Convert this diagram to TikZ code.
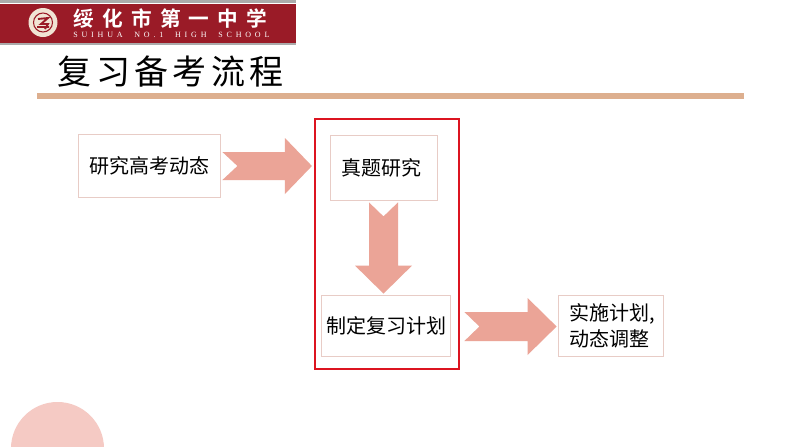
\documentclass[tikz,border=0pt]{standalone}
\usepackage{fontspec}
\setmainfont{Noto Sans CJK SC}
\newfontfamily\titlefont[LetterSpace=13]{Noto Sans CJK SC}
\newfontfamily\bannerfont[LetterSpace=40]{Noto Sans CJK SC Bold}
\newfontfamily\bannerlatin[LetterSpace=48]{Liberation Serif}
\usetikzlibrary{calc}
\definecolor{boxline}{HTML}{E8CCC6}
\definecolor{arrowpink}{HTML}{EBA497}
\definecolor{framered}{HTML}{DC1420}
\definecolor{circlepink}{HTML}{F5CAC4}
\definecolor{bannerred}{HTML}{9A1B27}
\definecolor{bannergray}{HTML}{ABABAB}
\definecolor{ruletan}{HTML}{DDAF8F}
\definecolor{logocream}{HTML}{F0E4D4}
\tikzset{
  flowbox/.style={draw=boxline,line width=.6pt,fill=white,inner sep=0pt,align=left,font=\fontsize{15}{19.5}\selectfont},
  blockarrow/.style={fill=arrowpink,draw=none},
  redframe/.style={draw=framered,line width=1.6pt},
}
% #1 start, #2 tip, #3 shaft half-width, #4 head half-width, #5 notch depth, #6 head length
\newcommand{\blockarrow}[6]{%
  \fill[blockarrow]
    ($(#1)!#3*.75pt!90:(#2)$) --
    ($(#2)!#6*.75pt!(#1)!#3*.75pt!-90:(#1)$) --
    ($(#2)!#6*.75pt!(#1)!#4*.75pt!-90:(#1)$) --
    (#2) --
    ($(#2)!#6*.75pt!(#1)!#4*.75pt!90:(#1)$) --
    ($(#2)!#6*.75pt!(#1)!#3*.75pt!90:(#1)$) --
    ($(#1)!#3*.75pt!-90:(#2)$) --
    ($(#1)!#5*.75pt!(#2)$) -- cycle;}
\begin{document}
\begin{tikzpicture}[x=.75pt,y=-.75pt]
\useasboundingbox (0,0) rectangle (794,447);
\fill[white] (0,0) rectangle (794,447);
% banner
\fill[bannergray] (0,0) rectangle (296,3);
\fill[bannerred] (0,3.5) rectangle (296,43);
\fill[bannergray] (0,43) rectangle (296,44.5);
\fill[logocream] (43,22.5) circle (14.5);
\draw[bannerred,line width=.8pt] (43,22.5) circle (9.5);
\draw[bannerred,line width=1.4pt] (38,19) -- (48,18) -- (41,24) -- (48,24) -- (45,29) (37,27) -- (49,27);
\node[text=white,anchor=west,inner sep=0pt,font=\bannerfont\fontsize{15.5}{18}\selectfont] (schoolcn) at (73,19) {绥化市第一中学};
\node[text=white,anchor=west,inner sep=0pt,font=\bannerlatin\fontsize{6}{7}\selectfont] (schoolen) at (73,35) {SUIHUA\ \ NO.1\ \ HIGH\ \ SCHOOL};
% title
\node[anchor=west,inner sep=0pt,font=\titlefont\fontsize{25.5}{30}\selectfont] (title) at (57.5,72) {复习备考流程};
\fill[ruletan] (37,93) rectangle (744,98.5);
% corner circle
\begin{scope}
\clip (0,0) rectangle (794,447);
\fill[circlepink] (57.5,448.5) circle (46.5);
\end{scope}
% frame and boxes
\node[redframe,minimum width=144*.75pt,minimum height=250*.75pt,inner sep=0pt] (frame) at (387,244) {};
\node[flowbox,minimum width=141.5*.75pt,minimum height=63*.75pt,align=center] (research) at (149.25,165.5) {\raisebox{-1pt}{研究高考动态}};
\node[flowbox,minimum width=107*.75pt,minimum height=65*.75pt,align=center] (exam) at (383.5,167.5) {\hspace*{-3pt}真题研究};
\node[flowbox,minimum width=129*.75pt,minimum height=61*.75pt,align=center] (plan) at (385.5,325.5) {\hspace*{1.5pt}\raisebox{-1pt}{制定复习计划}};
\node[flowbox,minimum width=105*.75pt,minimum height=61*.75pt] (act) at (610.5,325.5) {\hspace*{3pt}实施计划,\\\hspace*{3pt}动态调整};
% connectors
\coordinate (a1s) at ($(research.east)+(2,.5)$);
\coordinate (a1e) at ($(frame.west |- research.east)+(-2,.5)$);
\coordinate (a2s) at ($(exam.south)+(0,2)$);
\coordinate (a2e) at ($(exam.south |- plan.north)+(0,-1)$);
\coordinate (a3s) at ($(plan.east)+(14,1)$);
\coordinate (a3e) at ($(act.west)+(-1,1)$);
\blockarrow{a1s}{a1e}{14}{28}{15}{27}
\blockarrow{a2s}{a2e}{14.5}{28.5}{14}{28}
\blockarrow{a3s}{a3e}{14.5}{28.5}{15}{29}
\end{tikzpicture}
\end{document}
